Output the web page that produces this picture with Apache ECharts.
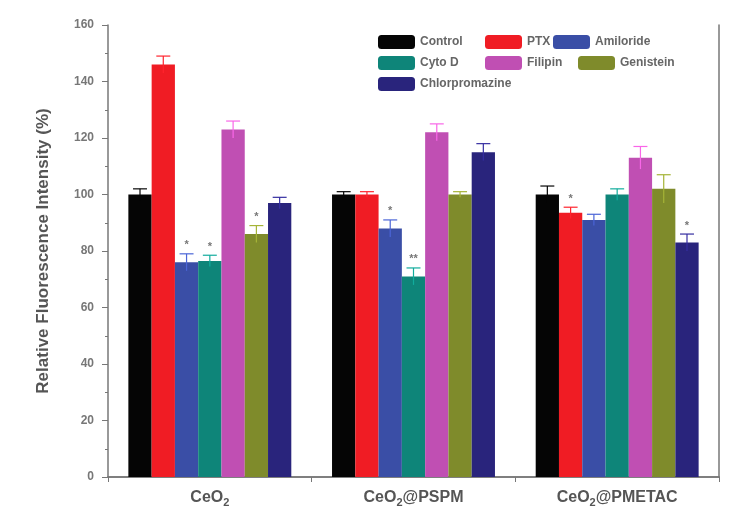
<!DOCTYPE html>
<html><head><meta charset="utf-8">
<script src="https://cdn.jsdelivr.net/npm/echarts@6/dist/echarts.min.js"></script>
<style>html,body{margin:0;padding:0;background:#fff}#c{width:730px;height:511px}</style>
</head><body><div id="c"></div>
<script>
const categories = ['CeO2', 'CeO2@PSPM', 'CeO2@PMETAC'];
const seriesNames = ['Control', 'PTX', 'Amiloride', 'Cyto D', 'Filipin', 'Genistein', 'Chlorpromazine'];
const colors = ['#050505', '#f01c24', '#3a4ea6', '#0e8579', '#c04fb3', '#7f8b2b', '#29247c'];
const control = [100, 100, 100];
const ptx = [146, 100, 93.5];
const amiloride = [76, 88, 91];
const cytoD = [76.5, 71, 100];
const filipin = [123, 122, 113];
const genistein = [86, 100, 102];
const chlorpromazine = [97, 115, 83];
const errControl = [2, 1, 3];
const errPtx = [3, 1, 2];
const errAmiloride = [3, 3, 2];
const errCytoD = [2, 3, 2];
const errFilipin = [3, 3, 4];
const errGenistein = [3, 1, 5];
const errChlorpromazine = [2, 3, 3];
const sigControl = ['', '', ''];
const sigPtx = ['', '', '*'];
const sigAmiloride = ['*', '*', ''];
const sigCytoD = ['*', '**', ''];
const sigFilipin = ['', '', ''];
const sigGenistein = ['*', '', ''];
const sigChlorpromazine = ['', '', '*'];
const yTicks = [0, 20, 40, 60, 80, 100, 120, 140, 160];

const values = [control, ptx, amiloride, cytoD, filipin, genistein, chlorpromazine];
const errs = [errControl, errPtx, errAmiloride, errCytoD, errFilipin, errGenistein, errChlorpromazine];
const sigs = [sigControl, sigPtx, sigAmiloride, sigCytoD, sigFilipin, sigGenistein, sigChlorpromazine];

const chart = echarts.init(document.getElementById('c'));
const FONT = 'Liberation Sans';
const nS = seriesNames.length;
const gapFrac = 0.2;

const barSeries = seriesNames.map((n, i) => ({
  name: n, type: 'bar', data: values[i],
  barGap: '0%', barCategoryGap: '20%',
  itemStyle: {color: colors[i]},
  z: 2
}));

const errData = [];
for (let s = 0; s < nS; s++) for (let c = 0; c < categories.length; c++)
  errData.push([c, values[s][c], errs[s][c], s, sigs[s][c]]);

const errSeries = {
  type: 'custom', name: 'err', z: 5, silent: true,
  data: errData,
  encode: {x: 0, y: 1},
  renderItem: function (params, api) {
    const c = api.value(0), v = api.value(1), e = api.value(2), s = api.value(3);
    const sig = errData[params.dataIndex][4];
    const band = api.size([1, 0])[0];
    const bw = band * (1 - gapFrac) / nS;
    const base = api.coord([c, v]);
    const x = base[0] + (s - (nS - 1) / 2) * bw;
    const top = api.coord([c, v + e])[1];
    const bot = api.coord([c, v - e])[1];
    const cap = bw * 0.3;
    const col = echarts.color.lift(colors[s], -0.3);
    const ch = [
      {type: 'line', shape: {x1: x, y1: top, x2: x, y2: bot}, style: {stroke: col, lineWidth: 1.2}},
      {type: 'line', shape: {x1: x - cap, y1: top, x2: x + cap, y2: top}, style: {stroke: col, lineWidth: 1.2}}
    ];
    if (sig) ch.push({type: 'text', style: {text: sig, x: x, y: top - 3, align: 'center', verticalAlign: 'bottom',
      fill: '#777', font: 'bold 11px ' + FONT}});
    return {type: 'group', children: ch};
  }
};

const legendPos = [[378, 35], [485, 35], [553, 35], [378, 56], [485, 56], [578, 56], [378, 77]];
const legends = seriesNames.map((n, i) => ({
  data: [n], left: legendPos[i][0], top: legendPos[i][1], itemWidth: 37, itemHeight: 14, itemGap: 4,
  textStyle: {fontFamily: FONT, fontSize: 12, fontWeight: 'bold', color: '#666'}, padding: 0
}));

const lblRich = {n: {fontFamily: FONT, fontSize: 16, fontWeight: 'bold', color: '#555'},
  s: {fontFamily: FONT, fontSize: 11, fontWeight: 'bold', color: '#555', verticalAlign: 'bottom', padding: [10, 0, 0, 0]}};

chart.setOption({
  animation: false,
  backgroundColor: '#fff',
  legend: legends,
  grid: {left: 108, right: 11, top: 25, bottom: 34},
  xAxis: [{
    type: 'category', data: categories,
    axisLine: {lineStyle: {color: '#777', width: 1.5}},
    axisTick: {show: true, length: 5, lineStyle: {color: '#777'}},
    axisLabel: {interval: 0, hideOverlap: false, margin: 10, fontFamily: FONT, fontSize: 16, fontWeight: 'bold', color: '#555',
      formatter: v => v.replace('CeO2', '{n|CeO}{s|2}').replace(/@(\w+)/, '{n|@$1}'),
      rich: lblRich}
  }, {
    type: 'category', position: 'top', data: categories,
    axisLine: {lineStyle: {color: '#777', width: 1.5}}, axisTick: {show: false}, axisLabel: {show: false}
  }],
  yAxis: [{
    type: 'value', min: 0, max: 160, interval: 20,
    name: 'Relative Fluorescence Intensity (%)', nameLocation: 'middle', nameGap: 56,
    nameTextStyle: {fontFamily: FONT, fontSize: 17, fontWeight: 'bold', color: '#555'},
    axisLine: {show: true, lineStyle: {color: '#777', width: 1.5}},
    axisTick: {show: true, length: 6, lineStyle: {color: '#777'}},
    minorTick: {show: true, splitNumber: 2, length: 3, lineStyle: {color: '#777'}},
    splitLine: {show: false},
    axisLabel: {margin: 14, fontFamily: FONT, fontSize: 12, fontWeight: 'bold', color: '#777'}
  }, {
    type: 'value', min: 0, max: 160, interval: 20, position: 'right',
    axisLine: {show: true, lineStyle: {color: '#777', width: 1.5}},
    axisTick: {show: false}, axisLabel: {show: false}, splitLine: {show: false}
  }],
  series: barSeries.concat([errSeries])
});
</script></body></html>
